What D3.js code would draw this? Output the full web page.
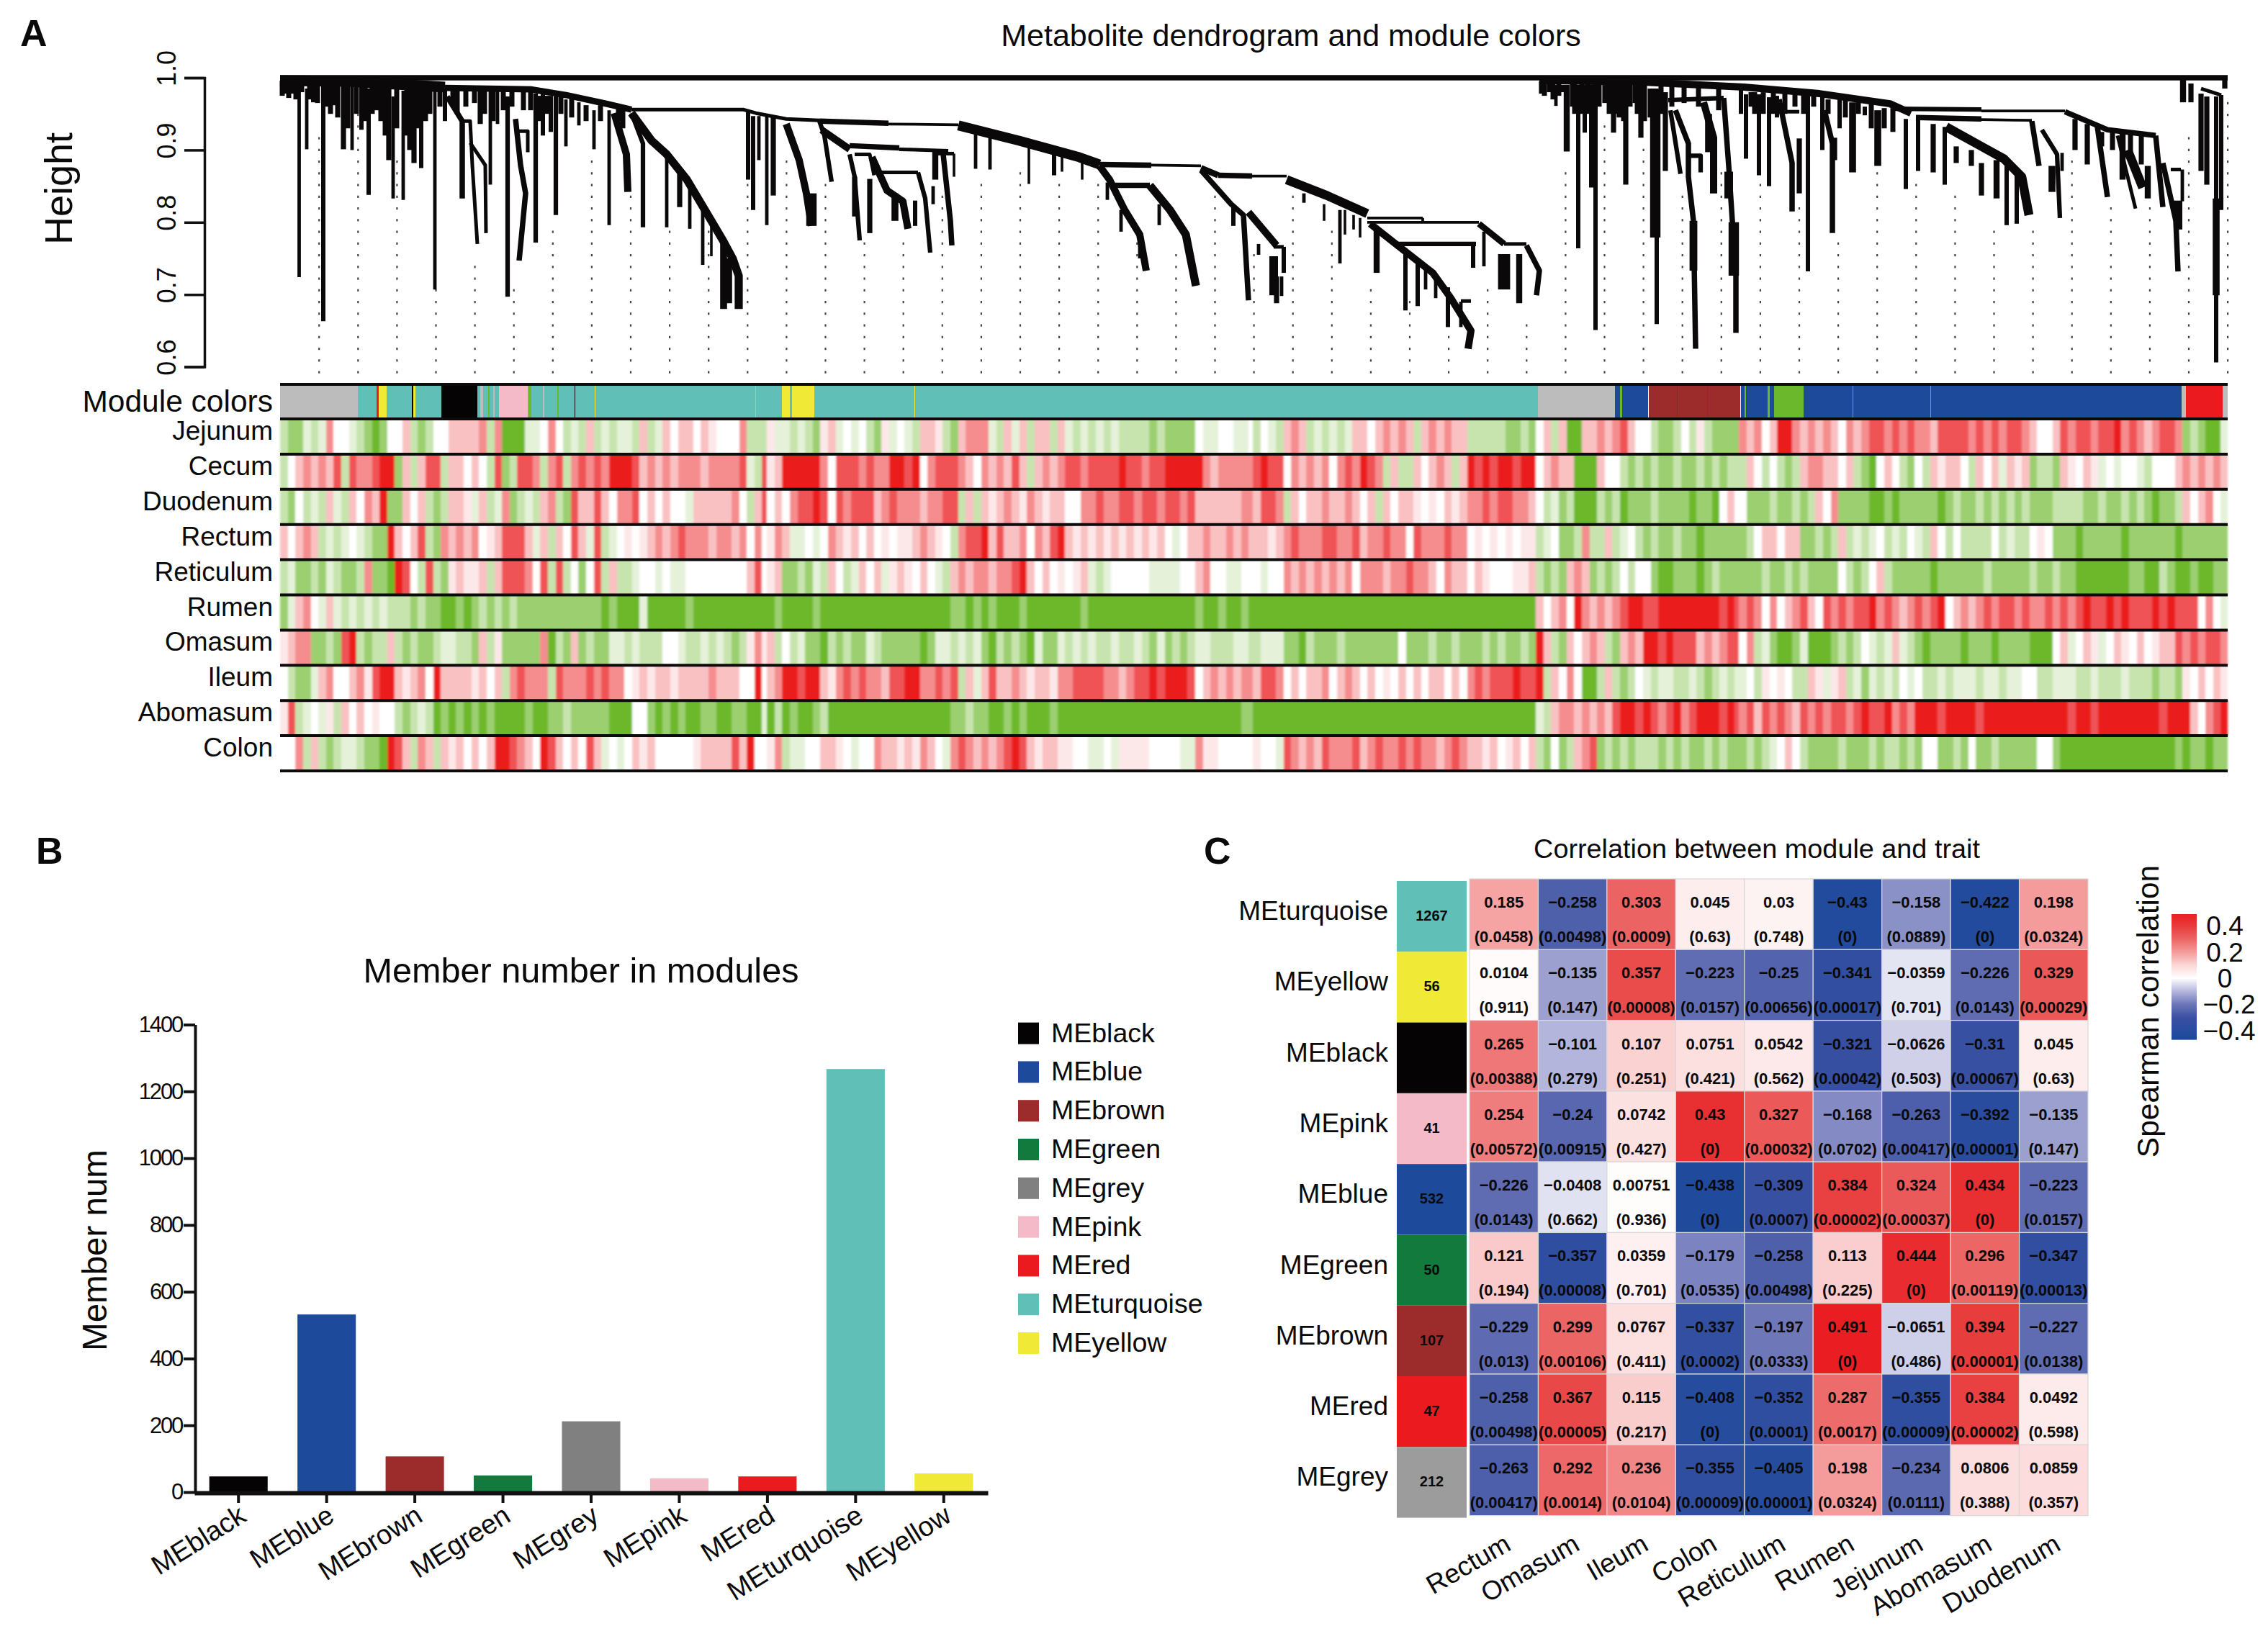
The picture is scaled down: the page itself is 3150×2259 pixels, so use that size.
<!DOCTYPE html>
<html><head><meta charset="utf-8">
<script src="https://cdn.jsdelivr.net/npm/d3@7/dist/d3.min.js"></script>
<style>html,body{margin:0;padding:0;background:#fff}svg{display:block}text{font-family:"Liberation Sans",Arial,sans-serif;fill:#0a0a0a}</style>
</head><body><div id="c"></div>
<script>
// ---------- DATA ----------
const modules = ["MEblack","MEblue","MEbrown","MEgreen","MEgrey","MEpink","MEred","MEturquoise","MEyellow"];
const memberCounts = [47,532,107,50,212,41,47,1267,56];
const moduleColors = {MEblack:"#050303",MEblue:"#1e4a9c",MEbrown:"#9c2b2b",MEgreen:"#127a3c",MEgrey:"#808080",MEpink:"#f5bac8",MEred:"#ea1a1e",MEturquoise:"#60c0b8",MEyellow:"#f0ea36"};
const stripColors = {...moduleColors,MEgreen:"#6cb82c",MEgrey:"#bcbcbc"};
const memberTicks = [0,200,400,600,800,1000,1200,1400];
const heightTicks = [0.6,0.7,0.8,0.9,1.0];

const traitRows = ["Jejunum","Cecum","Duodenum","Rectum","Reticulum","Rumen","Omasum","Ileum","Abomasum","Colon"];
// leaf position units along the dendrogram, 0..2705
const leafExtent = [0,2705];
const moduleRuns = [
["MEgrey",0,108],["MEturquoise",108,134],["MEred",134,137],["MEyellow",137,148],["MEturquoise",148,183],["MEblack",183,185],["MEyellow",185,188],["MEturquoise",188,224],
["MEblack",224,274],["MEturquoise",274,304],["MEgrey",278,282],["MEgreen",289,291],["MEgrey",296,298],["MEpink",304,344],["MEturquoise",344,697],["MEgreen",345,349],["MEgrey",365,367],["MEgreen",385,387],["MEblack",409,410],["MEyellow",437,438],["MEgrey",660,661],
["MEyellow",697,742],["MEturquoise",708,711],["MEturquoise",742,1747],["MEyellow",881,882],["MEgrey",1747,1854],["MEblue",1854,1900],["MEgreen",1861,1864],["MEbrown",1901,2028],["MEblue",1940,1941],["MEblue",1982,1983],
["MEblue",2029,2075],["MEgreen",2034,2036],["MEgreen",2066,2069],["MEgreen",2075,2116],["MEblue",2116,2641],["MEgreen",2184,2185],["MEgreen",2292,2293],["MEgrey",2641,2647],["MEred",2647,2698],["MEgrey",2698,2705]];

// stripe levels read per stretch of leaves: G g h i (green, strong to pale), w (white), p q r s R (red, pale to strong)
const stripeLevels = {G:-1,g:-.68,h:-.38,i:-.18,w:0,p:.1,q:.27,r:.5,s:.75,R:1};
const stripeSpans = [[0,680],[676,1356],[1351,2031],[2026,2706]];
const jejunumStripes = [
"hggi hirw wihg Ggww qhgh wwqq qqrh rGGG iiwr whih qhih iihq hiqw qqwq pwww rhhh",
"piih ihgp qiwi whgp iwih qqph gqrr rihq iqhq qhqi hihi hihh hhgh gggg wiiw wiiw",
"hwih qrqh ihih iqqw qrqr qhqr qrqq hhhh hggh gwqh qGGq qrqr sqww hggh whph gggg",
"rqrw qRRr qrqr qwrq rssr srsr rqss ssrs rsrs srqw wqsr ssrs sRrs rqrs srgh gGGi"];
const cecumStripes = [
"hwqr qrqs hsrr sRRg qhqs shqq wqwh sghs srhr shrs rsrR RRsq rqrq rrrq rrrr sihs",
"pqRR RRRr wsss rsrr RRsR wrss srqw rqrq sqhq rqrs srss ssRs srss RRRR Rrqr rrrr",
"sRss wrqr qrwr srRs rhqh hqwq rqhq RsRs RRsR Rwqr qqGG Gqww hghg hggh gghg hghh",
"hqwh whgh qrrq qwqh gGwq whgw hqpq qwhq wqiq pqgh hgqp wqpi wiww ihww wqrq rqrq"];
const duodenumStripes = [
"hgwh ihqi hqwr qRgg qwqh ghqq piqh irgh ihqr hgsq qsqw rrsw qwqw wiqq qqqr whqs",
"wqwr ssRs wsrs ssqr srrr qrrs shqh qpqr qprq pqqw wrrs rrss rssr ssrs qqqq qqrr",
"qssr hqwq qrqq rqwq hqwq qpwp wqpq rrsr ssrr qwhi ghGG Ghgh Gggg hggg gGgg Gwqw",
"wggg hggh ghqw rggg gGGg Gggg ggGg hggh ghgh ghgg ghhh hggh gghg hgGg ghqw qrwi"];
const rectumStripes = [
"qwqr qhih iwih ggRq wqsh grqr qrwp qsss qiqh qwsq ishi wpwp qrqr srrr qrrq rwrw",
"prqi iwiw rqpq wqwp wppq rqpw hrss Rqsq qrwr qsRq pqpq pqpq pqpq wiwq qrqq rqrq",
"qqpq rsrr rssr rsqr rsrr wsrr rsrr wpwp wpwp phiw gghr hhqh iwhg hggh ggGg gggg",
"ghwq qwqq gghg hqhi hiwh ihwi hqwh whhh hwhi hhwp wggg Gggg ggGg gggg gGgg gggg"];
const reticulumStripes = [
"higg hgih gghr ggGR swhs hgpq ppqh qsss rwsh shwg wshq hhiw wiwi iwww wwww wqsw",
"pqgg hgih qwhi qwqi pqpw qwih qrqr rqrr sRqw qwpw pqih iwww wwii iiww qrww iiww",
"wiww rqrq rqrq rwrr rqrr srrq wrqq wqpw wwpp qhgh gqrq ghgh whww gGGg ggGg hggg",
"gggh gghg hggg gwhg hwqh gggg gGgg gggg hggg gghg ghgg GGGG GGGg gGGh gGGg GGgg"];
const rumenStripes = [
"giqr wiqi hihi hihh hghg gGGg Gghg hghg gggg gggg ggGg GGGi GGGG GgGG GGGG GGGG",
"GgGG GGgG GGGG GGGG GGGG GGGG ggGg GgGG GgGG GGGG GgGG GGGG GGGG GGGG gGGg GGgG",
"GGGG GGGG GGGG GGGG GGGG GGGG GGGG GGGG GGGG Gqwq rwRr qrqr sRRs sRRR RRRR RsRs",
"rsrw rwqr sqws rsrs sRrs rqrs rsRw qrqr srss rsrr srsr sRss RsRs ssRs Rsss wrwi"];
const omasumStripes = [
"pqrr gghg sRhg hhqh ghgg hiih hgqh pggg ggrG hgqg hggi ihih hhww ihhi hihg hprp",
"qhwh iggG hghg gihg gggg Ggii hihi gGhg hgGi ggih ihih hihh ihgi ghgh iihh hiih",
"hiii ggGh gggh gggg gggw gggh gghg gghg hggh gRqh gqwq rqhg qrqR RsRs ssqr qrss",
"wrhi gGGg iGGG ghgh wihi qihg Gggg gGgg gGgg ggGG Gwqi wqpi wqpw qwpq qsrs rssr"];
const ileumStripes = [
"whgg iqrw wqrp sRRq pqrw Rqqq qpqw qhrs rrrh srrr srsr rwpq pqqp qqqq rqqq wwRw",
"qrRR sRRq prsr srrq ssRR rrsr shqi qsqq rqpq qprr ssss rrqr ssRs RRRs wqrq rqrr",
"qssr wqwq qrwq rqwq wpwq wqwq qwqw rsrs ssRs sRhq wrwG Ghqh ghwi hiih hihg hihi",
"iwhp wpwh hqpi pqhi gihi hwiw hhih iiih iihi iwwh hiii hhih hhih hhgh hgpw qwqp"];
const abomasumStripes = [
"pshi wiph qwqw pwwh ghih GgGg GgGg GGGG gGGg ghgg gggG GGww gGgG gGGg gGGg gGGi",
"GhGg GGgh GGGG GGGG GGGG GGGG gghg gGGg GgGG GgGG GGGG GGGG GGGG GGGG GGGG GGgg",
"GGGG GGGG GGGG GGGG GGGG GGGG GGGG GGGG GGGG Gihq rrqr qrqs RRsR srsR rsRR RsRs",
"rsqs rsrq srsr ssrs RssR rsrR RRsR RRRs RRRR RRRR RRRs RRsR RRRR RRRs RRRq wrsR"];
const colonStripes = [
"wwrh qhgh iihg gGRs qhrq hqpq wqwq RRsr qwRs qwqw sqiw iwqp qwww wwpq qqqs qRww",
"prhi iwwq qpwi wwrq qpqp rqwi rsrq rqrs Rsqp qqpp wwii wipp ppww wwii rppw wwww",
"pwwi srqr qsrr rsqr srrs rsrr qrsr qqpq wpqw qhgw ghqr sghg hghh hghg hggh ghgg",
"ghgh iwqw hggg ghgg ghgh hghg wwgg hgwg ghgg gggw wgGG GGGG GGGG GGGG GgGg gGgg"];
const stripeRows = [jejunumStripes,cecumStripes,duodenumStripes,rectumStripes,reticulumStripes,rumenStripes,omasumStripes,ileumStripes,abomasumStripes,colonStripes];

// dendrogram: [leaf position, height top, height bottom, leaves under the branch]
const branches = [
[8,.993,.978,5],[18,.993,.978,5],[26.5,.993,.724,4],[37,.985,.901,4],[46,.993,.966,5],[60,.993,.663,5],[74,.993,.962,6],[88,.993,.901,6],[100,.99,.9,4],[113,.99,.928,5],[123,.985,.838,5],[134,.989,.955,6],[151,.985,.886,6],[157,.974,.833,4],[171,.982,.831,4],[186,.985,.882,6],[196,.982,.875,5],[215,.985,.707,4],[229,.985,.94,5],
[278,.985,.936,6],[292,.985,.852,4],[302,.982,.936,4],[365,.978,.92,5],[376,.975,.925,5],[397,.97,.905,4],[415,.966,.934,4],[436,.955,.901,4],[457,.955,.796,4],
[537,.894,.793,4],[555,.87,.821,6],[569,.85,.791,4],[587,.82,.741,4],[599,.8,.753,3],[616,.77,.68,8],[623,.75,.688,8],
[650,.955,.859,5],[657,.947,.817,5],[665,.947,.886,4],[676,.947,.796,4],[685,.947,.837,6],[738,.84,.795,12],
[798,.863,.808,6],[819,.86,.785,6],[854,.84,.802,8],[882,.83,.795,5],[907,.85,.825,4],[910,.899,.859,7],[936,.895,.863,3],
[966,.93,.874,4],[986,.92,.873,4],[1040,.91,.853,3],[1075,.9,.865,5],[1086,.895,.87,3],[1114,.885,.859,3],
[1149,.855,.831,4],[1168,.817,.787,4],[1194,.78,.75,4],[1221,.825,.796,4],[1324,.82,.795,5],[1359,.77,.755,4],[1394,.766,.73,5],[1380,.753,.699,10],[1384,.725,.688,6],[1391,.725,.698,4],
[1422,.84,.827,4],[1450,.825,.802,3],[1472,.817,.743,4],[1479,.817,.783,3],[1491,.81,.79,3],[1500,.806,.779,3],
[1523,.79,.73,7],[1563,.764,.678,5],[1580,.745,.684,5],[1591,.74,.707,4],[1605,.725,.695,4],[1622,.71,.655,5],[1640,.69,.655,4],[1657,.77,.737,5],[1672,.787,.739,4],[1700,.756,.707,14],[1721,.756,.688,7],
[1752,.995,.978,6],[1763,.993,.98,6],[1772,.99,.961,4],[1780,.99,.98,6],[1787,.99,.898,7],[1803,.99,.764,5],[1812,.99,.924,5],[1821,.99,.848,5],[1827,.99,.651,5],[1840,.99,.965,6],[1852,.99,.924,6],[1860,.99,.945,6],[1869,.99,.852,6],[1882,.99,.965,6],[1890,.99,.917,6],[1903,.985,.945,6],[1912,.985,.659,5],[1910,.985,.779,12],[1924,.98,.871,6],
[1963,.802,.733,9],[1984,.95,.897,8],[2012,.87,.833,10],[2019,.8,.726,12],[2029,.985,.95,5],[2036,.977,.888,5],[2054,.977,.865,5],[2068,.973,.85,5],[2079,.975,.945,5],[2110,.916,.84,6],[2122,.98,.732,5],[2142,.974,.9,5],[2159,.917,.886,6],[2166,.97,.93,5],[2184,.966,.869,8],[2201,.96,.948,5],[2219,.955,.878,8],
[2258,.943,.846,5],[2275,.943,.871,5],[2296,.936,.869,6],[2312,.932,.852,5],[2328,.905,.882,6],[2349,.9,.878,6],[2363,.882,.837,6],[2384,.886,.833,7],[2398,.878,.796,5],[2412,.87,.798,5],[2461,.878,.842,8],[2475,.896,.871,4],
[2493,.943,.9,6],[2510,.936,.88,6],[2559,.924,.859,7],[2594,.878,.833,7],[2636,.83,.79,10],[2642,.873,.829,4],
[2643,.997,.966,7],[2654,.992,.966,6],[2668,.978,.871,6],[2676,.974,.852,6],[2689,.974,.606,5],[2689,.833,.699,8],[2696,.976,.817,5],[2701,.999,.985,6]];
// short twigs hanging from a shared height: [leaf position, bottom height]
const twigGroups = [
{top:.996,twigs:[[3,.975],[12,.972],[22,.97],[30,.98],[41,.97],[52,.965],[66,.96],[70,.95],[80,.945],[94,.93]]},
{top:.99,twigs:[[106,.95],[118,.94],[128,.95],[140,.94],[146,.92],[162,.93],[176,.92],[180,.9],[192,.93],[202,.94],[208,.95],[222,.96]]},
{top:.985,twigs:[[240,.96],[246,.95],[258,.96],[270,.965],[284,.95],[296,.94],[310,.955],[322,.96],[338,.955],[348,.955]]},
{top:.975,twigs:[[360,.94],[370,.95],[390,.95],[405,.945]]},
{top:.962,twigs:[[425,.94],[445,.94],[470,.94],[476,.93]]},
{top:.996,twigs:[[1756,.975],[1768,.97],[1776,.975],[1795,.96],[1798,.95],[1808,.95],[1816,.95],[1832,.96],[1846,.95],[1857,.95],[1866,.94],[1875,.96]]},
{top:.99,twigs:[[1885,.95],[1895,.94],[1918,.95],[1933,.96],[1950,.965],[1970,.96],[1998,.955]]},
{top:.98,twigs:[[2043,.96],[2048,.95],[2060,.95],[2074,.95],[2090,.95],[2104,.96],[2116,.95],[2130,.96]]},
{top:.97,twigs:[[2150,.95],[2174,.945],[2192,.95],[2210,.93]]},
{top:.958,twigs:[[2228,.93],[2240,.925]]},
{top:.925,twigs:[[2530,.905],[2545,.9],[2570,.89],[2585,.88]]}];
// multi-point stems: {n: leaves under the stem, pts: [[leaf position, height],...]}
const stems = [
{n:6,pts:[[0,1],[2705,1]]},
{n:12,pts:[[0,.996],[95,.995],[229,.987]]},
{n:7,pts:[[229,.986],[348,.984],[397,.976],[453,.964],[488,.956]]},
{n:4,pts:[[488,.956],[643,.956],[661,.951],[703,.943],[749,.941]]},
{n:6,pts:[[749,.94],[845,.937]]},{n:3,pts:[[845,.936],[942,.935]]},
{n:11,pts:[[942,.934],[1026,.913],[1110,.89],[1138,.88]]},{n:6,pts:[[1138,.88],[1210,.879]]},{n:3,pts:[[1210,.879],[1279,.878]]},
{n:7,pts:[[1279,.875],[1303,.865]]},{n:6,pts:[[1303,.865],[1350,.864]]},{n:3,pts:[[1350,.864],[1398,.864]]},
{n:10,pts:[[1398,.859],[1454,.837],[1510,.812]]},{n:3,pts:[[1510,.806],[1587,.806]]},{n:3,pts:[[1510,.8],[1665,.8]]},{n:3,pts:[[1587,.806],[1587,.8]]},
{n:7,pts:[[1665,.798],[1700,.77]]},{n:4,pts:[[1700,.77],[1731,.77]]},
{n:6,pts:[[232,.974],[253,.94],[253,.833]]},{n:4,pts:[[253,.94],[264,.94],[267,.879],[274,.77]]},{n:4,pts:[[264,.91],[285,.879],[286,.785]]},
{n:5,pts:[[316,.974],[316,.697]]},{n:6,pts:[[327,.943],[334,.879],[341,.84],[332,.747]]},{n:4,pts:[[330,.926],[344,.926],[344,.897]]},{n:5,pts:[[355,.978],[355,.772]]},{n:5,pts:[[383,.974],[383,.81]]},
{n:8,pts:[[464,.951],[481,.894],[483,.842]]},{n:5,pts:[[488,.951],[504,.909],[504,.793]]},
{n:9,pts:[[488,.951],[516,.913],[537,.894],[565,.859],[590,.817],[615,.775],[629,.749],[637,.726],[637,.68]]},
{n:8,pts:[[703,.936],[721,.886],[731,.84],[738,.795]]},{n:5,pts:[[749,.94],[756,.92],[766,.856]]},{n:8,pts:[[752,.928],[791,.901]]},{n:6,pts:[[791,.906],[860,.903]]},{n:4,pts:[[860,.901],[928,.899]]},
{n:5,pts:[[791,.894],[798,.863],[805,.775]]},{n:4,pts:[[798,.894],[819,.894],[825,.865]]},{n:8,pts:[[822,.89],[843,.844],[865,.829],[872,.791]]},{n:4,pts:[[836,.869],[886,.869]]},{n:5,pts:[[886,.869],[896,.833],[903,.758]]},{n:4,pts:[[910,.895],[936,.895]]},{n:6,pts:[[921,.894],[931,.802],[933,.768]]},
{n:8,pts:[[1138,.878],[1152,.859],[1173,.817],[1194,.783],[1203,.733]]},{n:6,pts:[[1152,.851],[1208,.851]]},{n:9,pts:[[1208,.851],[1236,.817],[1258,.783],[1272,.712]]},
{n:6,pts:[[1279,.872],[1321,.825],[1338,.81],[1345,.692]]},{n:8,pts:[[1345,.814],[1384,.768]]},{n:4,pts:[[1380,.766],[1394,.766]]},
{n:8,pts:[[1514,.798],[1552,.768],[1601,.73],[1626,.695],[1654,.65],[1650,.625]]},{n:4,pts:[[1640,.691],[1654,.691]]},{n:5,pts:[[1552,.77],[1661,.77]]},{n:6,pts:[[1731,.768],[1749,.733],[1745,.699]]},
{n:9,pts:[[1749,.997],[1872,.995]]},{n:8,pts:[[1872,.995],[2033,.987],[2138,.978],[2236,.964],[2265,.951]]},{n:5,pts:[[2243,.957],[2363,.956]]},{n:3,pts:[[2363,.954],[2479,.954]]},{n:6,pts:[[2272,.945],[2363,.943]]},{n:3,pts:[[2363,.942],[2433,.941]]},
{n:6,pts:[[2479,.953],[2538,.928],[2605,.92]]},
{n:5,pts:[[1928,.969],[2005,.972]]},{n:5,pts:[[1931,.955],[1945,.867]]},{n:6,pts:[[1938,.955],[1956,.909],[1956,.863],[1963,.802],[1966,.625]]},{n:5,pts:[[1956,.892],[1973,.892],[1973,.869]]},{n:8,pts:[[1977,.966],[1991,.917],[1991,.84]]},{n:6,pts:[[2005,.972],[2012,.878],[2022,.726],[2022,.647]]},
{n:6,pts:[[2082,.97],[2100,.882],[2100,.815]]},{n:4,pts:[[2082,.953],[2110,.953]]},{n:6,pts:[[2145,.955],[2156,.909],[2156,.785]]},
{n:10,pts:[[2314,.932],[2363,.905],[2394,.888],[2419,.863],[2429,.81]]},{n:6,pts:[[2433,.94],[2443,.878]]},{n:5,pts:[[2447,.928],[2468,.894],[2472,.806]]},
{n:6,pts:[[2524,.932],[2538,.835]]},{n:4,pts:[[2552,.92],[2577,.819]]},{n:10,pts:[[2566,.9],[2587,.848]]},{n:6,pts:[[2605,.92],[2615,.821]]},{n:6,pts:[[2615,.882],[2633,.802],[2636,.732]]},{n:4,pts:[[2626,.873],[2640,.873]]},
{n:4,pts:[[2668,.985],[2696,.976]]}];
// top height of each dotted guide (guide spacing follows the leaf order)
const guideTops = [.917,.955,.886,.707,.753,.707,.802,.894,.848,.791,.787,.856,.9,.867,.772,.772,.837,.867,.882,.852,.852,.772,.77,.837,.756,.852,.787,.722,.69,.657,.722,.672,.882,.947,.913,.848,.882,.863,.821,.772,.878,.863,.848,.802,.802,.898,.821,.829,.932,.966];

// correlation heatmap
const hmRows = ["MEturquoise","MEyellow","MEblack","MEpink","MEblue","MEgreen","MEbrown","MEred","MEgrey"];
const hmCols = ["Rectum","Omasum","Ileum","Colon","Reticulum","Rumen","Jejunum","Abomasum","Duodenum"];
const hmCounts = [1267,56,47,41,532,50,107,47,212];
const hmValues = [
[0.185,-0.258,0.303,0.045,0.03,-0.43,-0.158,-0.422,0.198],
[0.0104,-0.135,0.357,-0.223,-0.25,-0.341,-0.0359,-0.226,0.329],
[0.265,-0.101,0.107,0.0751,0.0542,-0.321,-0.0626,-0.31,0.045],
[0.254,-0.24,0.0742,0.43,0.327,-0.168,-0.263,-0.392,-0.135],
[-0.226,-0.0408,0.00751,-0.438,-0.309,0.384,0.324,0.434,-0.223],
[0.121,-0.357,0.0359,-0.179,-0.258,0.113,0.444,0.296,-0.347],
[-0.229,0.299,0.0767,-0.337,-0.197,0.491,-0.0651,0.394,-0.227],
[-0.258,0.367,0.115,-0.408,-0.352,0.287,-0.355,0.384,0.0492],
[-0.263,0.292,0.236,-0.355,-0.405,0.198,-0.234,0.0806,0.0859]];
const hmPvals = [
["0.0458","0.00498","0.0009","0.63","0.748","0","0.0889","0","0.0324"],
["0.911","0.147","0.00008","0.0157","0.00656","0.00017","0.701","0.0143","0.00029"],
["0.00388","0.279","0.251","0.421","0.562","0.00042","0.503","0.00067","0.63"],
["0.00572","0.00915","0.427","0","0.00032","0.0702","0.00417","0.00001","0.147"],
["0.0143","0.662","0.936","0","0.0007","0.00002","0.00037","0","0.0157"],
["0.194","0.00008","0.701","0.0535","0.00498","0.225","0","0.00119","0.00013"],
["0.013","0.00106","0.411","0.0002","0.0333","0","0.486","0.00001","0.0138"],
["0.00498","0.00005","0.217","0","0.0001","0.0017","0.00009","0.00002","0.598"],
["0.00417","0.0014","0.0104","0.00009","0.00001","0.0324","0.0111","0.388","0.357"]];
const corrStops = [-0.45,-0.3,-0.2,-0.1,0,0.1,0.2,0.3,0.4,0.5];
const corrColors = ["#1e4a9c","#3a50a2","#6c76b8","#b4b6dc","#ffffff","#fbd6d6","#f49a9a","#ec6464","#e83a3a","#e91a20"];
const corrTicks = [[0.4,"0.4"],[0.2,"0.2"],[0,"0"],[-0.2,"−0.2"],[-0.4,"−0.4"]];

// ---------- DRAW ----------
const W=3150,H=2259;
const svg=d3.select("#c").append("svg").attr("width",W).attr("height",H).attr("viewBox",`0 0 ${W} ${H}`);
const blur=svg.append("defs").append("filter").attr("id","sx").attr("x","-1%").attr("width","102%");
blur.append("feGaussianBlur").attr("stdDeviation","1.6 0.4");
const fmt=v=>String(v).replace("-","−");

function txt(g,x,y,s,size,opt={}){
  const t=g.append("text").attr("x",x).attr("y",y).attr("font-size",size).text(s);
  if(opt.anchor)t.attr("text-anchor",opt.anchor);
  if(opt.weight)t.attr("font-weight",opt.weight);
  if(opt.rotate!==undefined)t.attr("transform",`rotate(${opt.rotate} ${x} ${y})`);
  return t;
}
[["A",28,64],["B",50,1200],["C",1672,1200]].forEach(d=>txt(svg,d[1],d[2],d[0],52,{weight:"bold"}));

// ---- Panel A
const gA=svg.append("g");
const xL=d3.scaleLinear().domain(leafExtent).range([389,3094]);
const yH=d3.scaleLinear().domain([0.6,1]).range([509.6,108]);
txt(gA,1793,64,"Metabolite dendrogram and module colors",43,{anchor:"middle"});
txt(gA,100,262,"Height",54,{anchor:"middle",rotate:-90});
const axH=d3.axisLeft(yH).tickValues(heightTicks).tickSize(28).tickFormat("");
const gAx=gA.append("g").attr("transform","translate(284,0)").call(axH);
gAx.selectAll("path,line").attr("stroke","#111").attr("stroke-width",3.5);
heightTicks.forEach(v=>txt(gA,244,yH(v)-13,d3.format(".1f")(v),36,{anchor:"middle",rotate:-90}));
const gD=gA.append("g").attr("fill","#444");
guideTops.forEach((top,i)=>{
  const k=i+1, xp=xL(leafExtent[1]/guideTops.length*k);
  d3.range(517,yH(top),-16.25).forEach(y=>gD.append("rect").attr("x",xp-1).attr("y",y-1.5).attr("width",2.2).attr("height",3.2));
});
const gT=gA.append("g").attr("stroke","#0a0808").attr("fill","none").attr("stroke-linejoin","round");
const stemLine=d3.line().x(d=>xL(d[0])).y(d=>yH(d[1]));
stems.forEach(s=>gT.append("path").attr("d",stemLine(s.pts)).attr("stroke-width",s.n*1.25));
branches.forEach(b=>gT.append("line").attr("x1",xL(b[0])).attr("x2",xL(b[0])).attr("y1",yH(b[1])).attr("y2",yH(b[2])).attr("stroke-width",b[3]*1.2));
twigGroups.forEach(g=>g.twigs.forEach(t=>gT.append("line").attr("x1",xL(t[0])).attr("x2",xL(t[0])).attr("y1",yH(g.top)).attr("y2",yH(t[1])).attr("stroke-width",7)));
// module strip
const stripY=534, stripB=582, rowH=48.9;
const gS=gA.append("g");
moduleRuns.forEach(r=>gS.append("rect").attr("x",xL(r[1])).attr("width",xL(r[2])-xL(r[1])).attr("y",stripY).attr("height",stripB-stripY).attr("fill",stripColors[r[0]]));
txt(gA,379,572,"Module colors",42.5,{anchor:"end"});
// trait rows
const yR=d3.scaleBand().domain(traitRows).range([stripB,stripB+rowH*traitRows.length]);
const stripeColor=d3.scaleLinear().domain([-1,0,1]).range(["#6cb82c","#ffffff","#ea1a1e"]);
const gR=gA.append("g").attr("filter","url(#sx)").attr("shape-rendering","crispEdges");
traitRows.forEach((name,ri)=>{
  stripeRows[ri].forEach((s,pi)=>{
    const codes=s.replace(/ /g,""), sp=stripeSpans[pi], n=codes.length;
    const xb=d3.scaleLinear().domain([0,n]).range(sp);
    Array.from(codes).forEach((c,i)=>{
      gR.append("rect").attr("x",xL(xb(i))).attr("width",Math.min(xL(xb(i+1))-xL(xb(i))+0.6,3094-xL(xb(i))))
        .attr("y",yR(name)).attr("height",yR.bandwidth()).attr("fill",stripeColor(stripeLevels[c]));
    });
  });
  txt(gA,379,yR(name)+29,name,37,{anchor:"end"});
});
const gLn=gA.append("g").attr("stroke","#0c0a0a").attr("stroke-width",4);
[stripY,stripB,...traitRows.map(t=>yR(t)+rowH)].forEach(y=>gLn.append("line").attr("x1",389).attr("x2",3094).attr("y1",y).attr("y2",y));

// ---- Panel B
const gB=svg.append("g");
const xB=d3.scaleBand().domain(modules).range([270,1372]).paddingInner(.338).paddingOuter(.169);
const yB=d3.scaleLinear().domain([0,1400]).range([2073,1423.5]);
txt(gB,807,1365,"Member number in modules",48.6,{anchor:"middle"});
txt(gB,148,1737,"Member num",47.5,{anchor:"middle",rotate:-90});
gB.selectAll("rect.bar").data(modules).join("rect").attr("class","bar")
  .attr("x",d=>xB(d)).attr("width",xB.bandwidth())
  .attr("y",(d,i)=>yB(memberCounts[i])).attr("height",(d,i)=>yB(0)-yB(memberCounts[i]))
  .attr("fill",d=>moduleColors[d]);
const axBy=d3.axisLeft(yB).tickValues(memberTicks).tickSize(16).tickSizeOuter(0).tickFormat(d3.format("d"));
const gBy=gB.append("g").attr("transform","translate(271,0)").call(axBy);
gBy.selectAll("path,line").attr("stroke","#111").attr("stroke-width",4);
gBy.selectAll("text").attr("font-size",31).attr("letter-spacing",-2.2).attr("x",-18).attr("fill","#111").attr("font-family",'"Liberation Sans"');
const axBx=d3.axisBottom(xB).tickSize(14).tickSizeOuter(0).tickFormat("");
const gBx=gB.append("g").attr("transform","translate(0,2074)").call(axBx);
gBx.selectAll("path,line").attr("stroke","#111").attr("stroke-width",4);
gBx.select("path").attr("stroke-width",6);
modules.forEach(m=>txt(gB,xB(m)+xB.bandwidth()/2+13,2112,m,38,{anchor:"end",rotate:-32}));
modules.forEach((m,i)=>{
  const y=1434.6+53.8*i;
  gB.append("rect").attr("x",1414).attr("y",y-14).attr("width",29).attr("height",30).attr("fill",moduleColors[m]);
  txt(gB,1460,y+13,m,37.5);
});

// ---- Panel C
const gC=svg.append("g");
txt(gC,2440,1192,"Correlation between module and trait",37.8,{anchor:"middle"});
const xC=d3.scaleBand().domain(hmCols).range([2041,2900]);
const yC=d3.scaleBand().domain(hmRows).range([1221,2105.6]);
const corr=d3.scaleLinear().domain(corrStops).range(corrColors);
hmRows.forEach((r,ri)=>{
  const y=yC(r), yS=y+3, h=yC.bandwidth();
  gC.append("rect").attr("x",1940).attr("y",yS).attr("width",97).attr("height",h).attr("fill",r==="MEgrey"?"#9c9c9c":moduleColors[r]);
  const ct=txt(gC,1988.5,yS+h/2+6,hmCounts[ri],20,{anchor:"middle",weight:"bold"});
  if(r==="MEblack")ct.style("fill","#050303");
  txt(gC,1928,y+h/2+8,r,37,{anchor:"end"});
  hmCols.forEach((c,ci)=>{
    const x=xC(c), w=xC.bandwidth();
    gC.append("rect").attr("x",x).attr("y",y).attr("width",w).attr("height",h).attr("fill",corr(hmValues[ri][ci])).attr("stroke","#d8d8d8").attr("stroke-width",1.2);
    txt(gC,x+w/2,y+40,fmt(hmValues[ri][ci]),22,{anchor:"middle",weight:"bold"});
    txt(gC,x+w/2,y+88,"("+hmPvals[ri][ci]+")",22,{anchor:"middle",weight:"bold"});
  });
});
hmCols.forEach(c=>txt(gC,xC(c)+xC.bandwidth()/2+12,2152,c,37,{anchor:"end",rotate:-30}));
const yCb=d3.scaleLinear().domain([-0.466,0.488]).range([1444,1270]);
const gCb=gC.append("g");
d3.range(1270,1444,2).forEach(y=>gCb.append("rect").attr("x",3016).attr("y",y).attr("width",35).attr("height",2.6).attr("fill",corr(yCb.invert(y+1))));
corrTicks.forEach(t=>txt(gC,t[0]<0?3096:3090,yCb(t[0])+13,t[1],37,{anchor:"middle"}));
txt(gC,2998,1405,"Spearman correlation",42.5,{anchor:"middle",rotate:-90});
</script></body></html>
